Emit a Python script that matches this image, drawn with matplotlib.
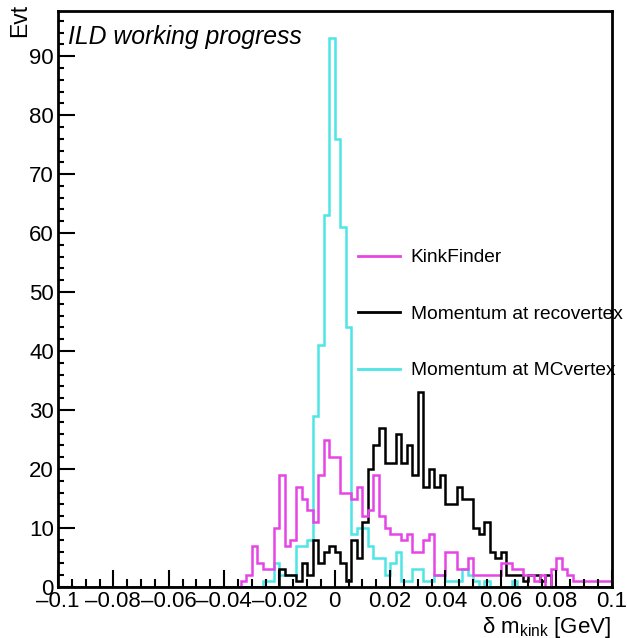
import matplotlib
matplotlib.use('Agg')
import matplotlib.pyplot as plt
import numpy as np
from matplotlib.lines import Line2D
from matplotlib.ticker import MultipleLocator, FuncFormatter

plt.rcParams['font.family'] = ['Liberation Sans', 'DejaVu Sans']

# 100 bins from -0.1 to 0.1 GeV, first 32 bins are empty for all three
bin_edges = np.linspace(-0.1, 0.1, 101)
empty_bins = [0] * 32

# counts for bins 32..99 (x from -0.036 to 0.1)
kinkfinder = [0, 1, 2, 7, 4, 3, 3, 10, 19, 7, 8, 17, 15, 13, 11, 19, 25, 22, 22, 16,
              16, 15, 17, 12, 13, 19, 12, 10, 9, 9, 8, 9, 6, 6, 8, 9, 2, 2, 6, 6,
              3, 3, 5, 2, 2, 2, 2, 2, 4, 4, 3, 3, 2, 2, 1, 2, 0, 3, 5, 3,
              2, 1, 1, 1, 1, 1, 1, 1]
recovertex = [0, 0, 0, 0, 0, 0, 0, 0, 3, 2, 2, 1, 4, 2, 8, 4, 6, 7, 6, 4,
              1, 8, 5, 11, 20, 24, 27, 21, 21, 26, 21, 24, 19, 33, 17, 20, 17, 19, 14, 14,
              17, 15, 15, 10, 9, 11, 6, 5, 6, 2, 2, 2, 1, 2, 2, 1, 2, 0, 0, 0,
              0, 0, 0, 0, 0, 0, 0, 0]
mcvertex = [0, 0, 0, 0, 0, 1, 1, 4, 2, 2, 2, 7, 7, 8, 29, 41, 63, 93, 76, 61,
            44, 9, 10, 10, 7, 5, 5, 2, 4, 6, 1, 1, 3, 3, 1, 1, 2, 2, 1, 1,
            1, 3, 2, 1, 0, 1, 0, 0, 0, 0, 1, 0, 0, 0, 0, 0, 0, 0, 0, 0,
            0, 0, 0, 0, 0, 0, 0, 0]

labels = ['KinkFinder', 'Momentum at recovertex', 'Momentum at MCvertex']
colors = ['#e645e6', 'black', '#4de5e5']

fig = plt.figure(figsize=(6.27, 6.38), dpi=100)
ax = fig.add_axes([58 / 627, 1 - 587 / 638, (611.5 - 58) / 627, (587 - 11) / 638])

ax.stairs(empty_bins + mcvertex, bin_edges, color=colors[2], lw=1.8)
ax.stairs(empty_bins + recovertex, bin_edges, color=colors[1], lw=1.8)
ax.stairs(empty_bins + kinkfinder, bin_edges, color=colors[0], lw=1.8)

ax.set_xlim(-0.1, 0.1)
ax.set_ylim(0, 93 * 1.05)

for s in ax.spines.values():
    s.set_linewidth(2)

ax.xaxis.set_major_locator(MultipleLocator(0.02))
ax.xaxis.set_minor_locator(MultipleLocator(0.005))
ax.yaxis.set_major_locator(MultipleLocator(10))
ax.yaxis.set_minor_locator(MultipleLocator(2))


def fmt(v, pos):
    if abs(v) < 1e-9:
        return '0'
    return ('%g' % v).replace('-', '\u2013')


ax.xaxis.set_major_formatter(FuncFormatter(fmt))
ax.tick_params(which='both', direction='in', top=False, right=False, width=1.5, labelsize=16)
ax.tick_params(which='major', length=12)
ax.tick_params(axis='x', which='minor', length=6)
ax.tick_params(axis='y', which='minor', length=4.5)
ax.tick_params(axis='x', pad=3)
ax.tick_params(axis='y', pad=3)

# legend
handles = [Line2D([], [], color=c, lw=2) for c in colors]
fig.legend(handles, labels, loc='upper left', bbox_to_anchor=(358 / 627, 1 - 249 / 638),
           frameon=False, fontsize=13.8, handlelength=2.2, handletextpad=0.55,
           labelspacing=2.04, borderpad=0, borderaxespad=0)

fig.text(68 / 627, 1 - 37 / 638, 'ILD working progress', style='italic', fontsize=17.8, va='center')
fig.text(20 / 627, 1 - 4 / 638, 'Evt', rotation=90, fontsize=16.5, ha='center', va='top')
fig.text(611 / 627, 1 - 627 / 638, '\u03b4 m$_{\\mathregular{kink}}$ [GeV]', fontsize=16,
         ha='right', va='center')

fig.savefig('out.png', dpi=100)
